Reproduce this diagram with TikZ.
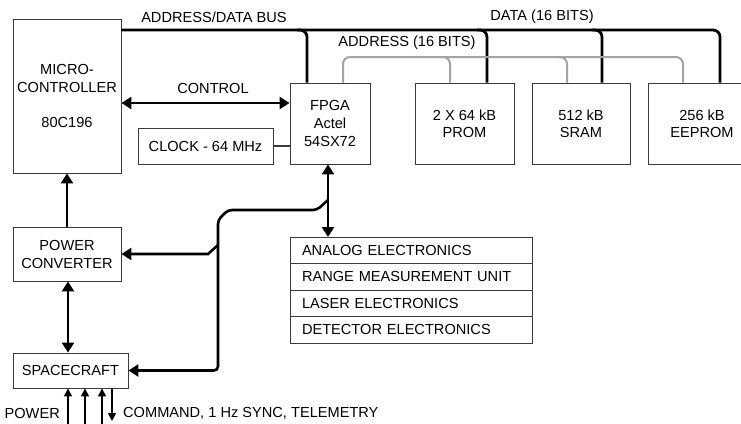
\documentclass[tikz,border=0pt]{standalone}
\usepackage{fontspec}
\setmainfont{Liberation Sans}
\usetikzlibrary{arrows.meta,positioning,calc}
\definecolor{boxline}{HTML}{3A3A3A}
\definecolor{addrgray}{HTML}{A3A3A3}
\tikzset{
  blk/.style={rectangle,draw=boxline,line width=0.9pt,align=center,inner sep=0pt,font=\fontsize{14.6}{17}\selectfont},
  row/.style={rectangle,draw=boxline,line width=0.9pt,outer sep=0pt,minimum width=242pt,minimum height=26.5pt,text width=218pt,align=left,inner xsep=12pt,inner ysep=0pt,font=\fontsize{14.6}{16}\selectfont},
  lbl/.style={font=\fontsize{14.6}{16}\selectfont,inner sep=0pt},
  bus/.style={line width=2.8pt,rounded corners=7pt},
  addr/.style={line width=2pt,addrgray,rounded corners=7pt},
  arrow/.style={-{Triangle[length=10pt,width=12pt]},line width=2.6pt},
  biarrow/.style={{Triangle[length=10pt,width=12pt]}-{Triangle[length=10pt,width=12pt]},line width=2.6pt},
  thinarrow/.style={-{Triangle[length=8pt,width=8pt]},line width=1.6pt}
}

\begin{document}
\begin{tikzpicture}[x=1pt,y=-1pt]
    \useasboundingbox (0,0) rectangle (741,423);
    \clip (0,0) rectangle (741,423);
    % blocks
    \node[blk,minimum width=108pt,minimum height=154pt,font=\fontsize{14.6}{18}\selectfont] (mcu) at (67,96) {MICRO-\\CONTROLLER\\[17pt]80C196};
    \node[blk,minimum width=80pt,minimum height=81pt,font=\fontsize{14.6}{18}\selectfont] (fpga) at (330,123.5) {FPGA\\Actel\\54SX72};
    \node[blk,minimum width=135pt,minimum height=36pt] (clk) at (205.5,146) {CLOCK - 64 MHz};
    \node[blk,minimum width=99pt,minimum height=81pt] (prom) at (464.5,123.5) {2 X 64 kB\\PROM};
    \node[blk,minimum width=98pt,minimum height=81pt] (sram) at (581,123.5) {512 kB\\SRAM};
    \node[blk,minimum width=108pt,minimum height=81pt] (eeprom) at (702,123.5) {256 kB\\EEPROM};
    \node[blk,minimum width=108pt,minimum height=54pt,font=\fontsize{14.6}{18}\selectfont] (pwr) at (67,254) {POWER\\CONVERTER};
    \node[blk,minimum width=115pt,minimum height=35pt] (sc) at (70.5,370.5) {SPACECRAFT};
    \node[row,anchor=north west] (ana) at (290,237) {ANALOG ELECTRONICS};
    \node[row,below=0pt of ana] (rmu) {RANGE MEASUREMENT UNIT};
    \node[row,below=0pt of rmu] (las) {LASER ELECTRONICS};
    \node[row,below=0pt of las] (det) {DETECTOR ELECTRONICS};
    % buses
    \draw[bus] (mcu.east |- 0,30) -- (720,30) -- (eeprom.north -| 720,0);
    \draw[bus] (297,30) -- (307,30) -- (fpga.north -| 307,0);
    \draw[bus] (477,30) -- (487,30) -- (prom.north -| 487,0);
    \draw[bus] (592,30) -- (602,30) -- (sram.north -| 602,0);
    \draw[addr] (fpga.north -| 343,0) -- (343,57) -- (683,57) -- (eeprom.north -| 683,0);
    \draw[addr] (440,57) -- (450,57) -- (prom.north -| 450,0);
    \draw[addr] (557,57) -- (567,57) -- (sram.north -| 567,0);
    \node[lbl] (busname) at (214,17) {ADDRESS/DATA BUS};
    \node[lbl] (dataname) at (542,17) {DATA (16 BITS)};
    \node[lbl] (addrname) at (407,43) {ADDRESS (16 BITS)};
    % control and clock
    \node[lbl] (ctlname) at (213,88) {CONTROL};
    \draw[biarrow] (mcu.east |- 0,103) -- (fpga.west |- 0,103);
    \draw[line width=1.2pt,boxline] (clk.east) -- (fpga.west |- clk.east);
    \draw[biarrow] (fpga.south -| 328,0) -- (ana.north -| 328,0);
    % power and spacecraft links
    \coordinate (tap) at (328,200);
    \draw[arrow,rounded corners=4pt] (tap) -- (317,210) -- (228,210) -- (218,220) -- (218,370.5) -- (sc.east);
    \draw[arrow] (218,245) -- (208,254) -- (pwr.east);
    \draw[arrow] (pwr.north) -- (mcu.south);
    \draw[biarrow] (pwr.south -| 68,0) -- (sc.north -| 68,0);
    \foreach \x in {68,85,102} {
      \coordinate (in\x) at (\x,425);
      \draw[thinarrow] (in\x) -- (sc.south -| \x,0);
    }
    \coordinate (out) at (112,421);
    \draw[thinarrow] (sc.south -| 112,0) -- (out);
    \node[lbl,anchor=east] (pwrin) at (60,413) {POWER};
    \node[lbl,anchor=west] (cmdout) at (123,413) {COMMAND, 1 Hz SYNC, TELEMETRY};
\end{tikzpicture}
\end{document}
